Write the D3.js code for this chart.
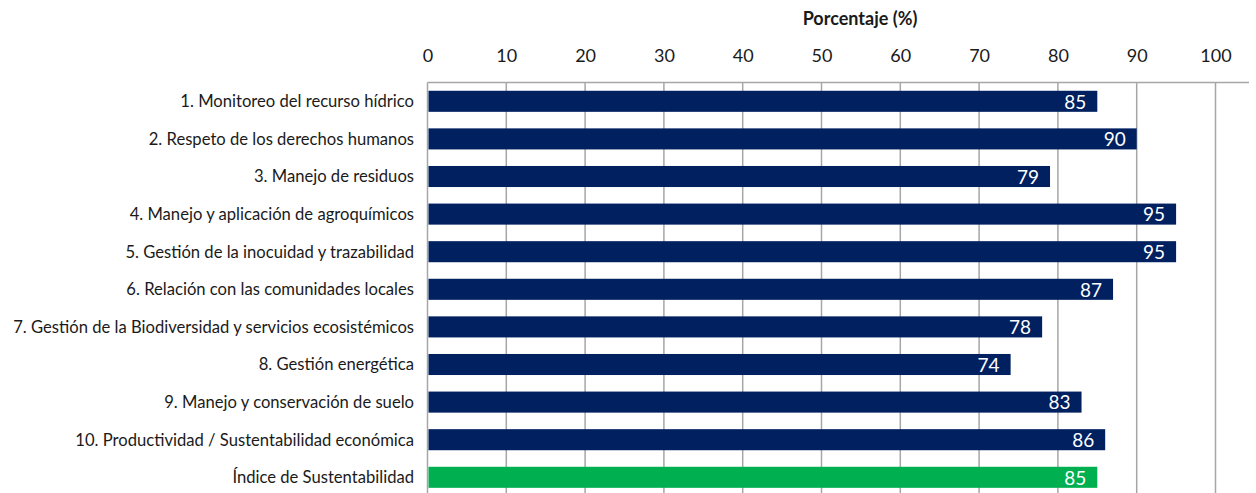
<!DOCTYPE html>
<html>
<head>
<meta charset="utf-8">
<script src="https://cdn.jsdelivr.net/npm/d3@7"></script>
<style>
  html, body { margin: 0; padding: 0; background: #fff; }
  svg { display: block; }
  text { font-family: Lato, "Open Sans", sans-serif; }
</style>
</head>
<body>
<svg id="chart" width="1256" height="493"></svg>
<script>
const categories = [
  "1. Monitoreo del recurso hídrico",
  "2. Respeto de los derechos humanos",
  "3. Manejo de residuos",
  "4. Manejo y aplicación de agroquímicos",
  "5. Gestión de la inocuidad y trazabilidad",
  "6. Relación con las comunidades locales",
  "7. Gestión de la Biodiversidad y servicios ecosistémicos",
  "8. Gestión energética",
  "9. Manejo y conservación de suelo",
  "10. Productividad / Sustentabilidad económica",
  "Índice de Sustentabilidad"
];
const values = [85, 90, 79, 95, 95, 87, 78, 74, 83, 86, 85];
const isIndex = [false, false, false, false, false, false, false, false, false, false, true];
const xTicks = [0, 10, 20, 30, 40, 50, 60, 70, 80, 90, 100];
const axisTitle = "Porcentaje (%)";

(function () {
const svg = d3.select("#chart");
const left = 427.5, right100 = 1215.5, plotRight = 1249, plotTop = 82.5, step = 37.6;
const x = d3.scaleLinear().domain([0, 100]).range([left, right100]);
const y = d3.scaleBand().domain(categories)
  .range([plotTop, plotTop + step * categories.length])
  .paddingInner(0.44).paddingOuter(0.22);

const bottom = plotTop + step * categories.length;

// gridlines
svg.append("g").selectAll("line").data(xTicks.slice(1)).join("line")
  .attr("x1", d => x(d)).attr("x2", d => x(d))
  .attr("y1", plotTop).attr("y2", bottom)
  .attr("stroke", "#a6a6a6").attr("stroke-width", 1.5);

// top axis line
svg.append("line").attr("x1", left).attr("x2", plotRight)
  .attr("y1", plotTop).attr("y2", plotTop)
  .attr("stroke", "#a6a6a6").attr("stroke-width", 1.5);
// left axis line
svg.append("line").attr("x1", left).attr("x2", left)
  .attr("y1", plotTop).attr("y2", bottom)
  .attr("stroke", "#a6a6a6").attr("stroke-width", 1.5);

// tick labels
const xAxis = d3.axisTop(x).tickValues(xTicks).tickSize(0).tickPadding(0);
const gx = svg.append("g").attr("transform", "translate(0,62)").call(xAxis);
gx.select(".domain").remove();
gx.selectAll("text").attr("font-size", 18).attr("fill", "#1a1a1a")
  .attr("font-family", "Lato, sans-serif");

// title
svg.append("text").attr("x", 860).attr("y", 25).attr("text-anchor", "middle")
  .attr("font-size", 18).attr("font-weight", "bold").attr("fill", "#1a1a1a")
  .text(axisTitle);

// bars
svg.append("g").selectAll("rect").data(values).join("rect")
  .attr("x", x(0) + 1)
  .attr("y", (d, i) => y(categories[i]))
  .attr("width", d => x(d) - x(0) - 1)
  .attr("height", y.bandwidth())
  .attr("fill", (d, i) => isIndex[i] ? "#00b050" : "#002060");

// value labels
svg.append("g").selectAll("text").data(values).join("text")
  .attr("x", d => x(d) - 11)
  .attr("y", (d, i) => y(categories[i]) + y.bandwidth() / 2)
  .attr("dy", "0.38em")
  .attr("text-anchor", "end")
  .attr("font-size", 19).attr("fill", "#fff")
  .text(d => d);

// category labels
const cat = svg.append("g").selectAll("text").data(categories).join("text")
  .attr("x", 414)
  .attr("y", d => y(d) + y.bandwidth() / 2)
  .attr("dy", "0.36em")
  .attr("text-anchor", "end")
  .attr("font-size", 16).attr("fill", "#1a1a1a")
  .text(d => d);

// fit font so the longest label spans ~401px
const longest = cat.filter((d, i) => i === 6).node();
const w = longest.getComputedTextLength();
const fs = 16 * 401 / w;
cat.attr("font-size", fs);
})();
</script>
</body>
</html>
